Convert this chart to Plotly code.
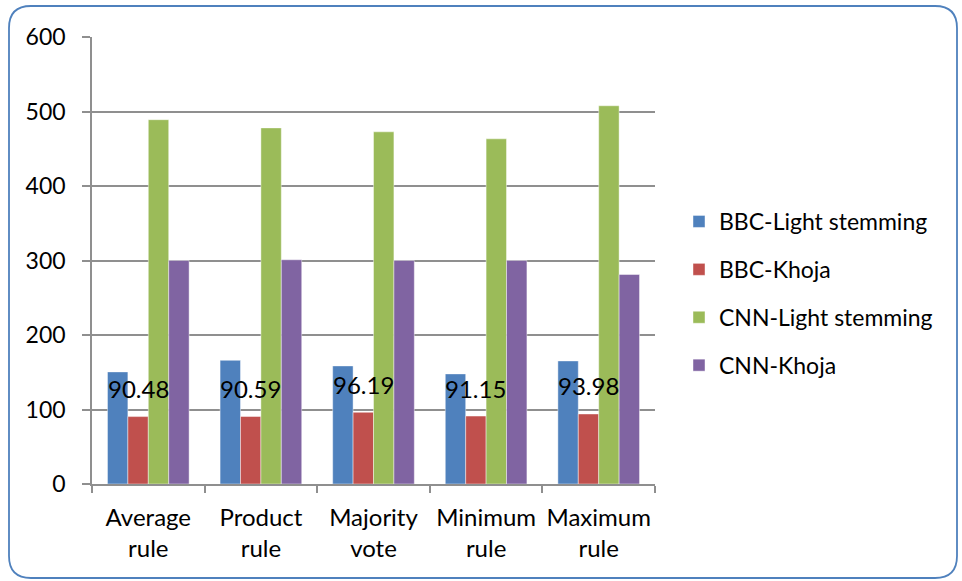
import plotly.graph_objects as go

# Combination rules compared across stemmers and corpora
categories = ["Average<br>rule", "Product<br>rule", "Majority<br>vote", "Minimum<br>rule", "Maximum<br>rule"]
bbc_light = [150.5, 166.0, 158.5, 147.8, 165.2]
bbc_khoja = [90.48, 90.59, 96.19, 91.15, 93.98]
cnn_light = [489.0, 478.0, 472.7, 463.3, 507.7]
cnn_khoja = [300.0, 301.0, 300.0, 300.0, 281.2]

series = [
    ("BBC-Light stemming", bbc_light, "#4F81BD"),
    ("BBC-Khoja", bbc_khoja, "#C0504D"),
    ("CNN-Light stemming", cnn_light, "#9BBB59"),
    ("CNN-Khoja", cnn_khoja, "#8064A2"),
]

W, H = 962, 581
ML, MR, MT, MB = 92, 307, 37, 97
PW, PH = W - ML - MR, H - MT - MB

FONT = "Lato"
GRID = "#8f8f8f"

fig = go.Figure()
for i, (name, vals, color) in enumerate(series):
    fig.add_trace(go.Bar(
        x=categories, y=vals, name=name,
        marker=dict(color=color, line=dict(color="rgba(255,255,255,0.55)", width=0.8)),
        legendgroup=f"g{i}",
    ))

# value labels above the BBC-Khoja bars (second bar of each group)
n_series = len(series)
bargap = 0.275
bar_px = PW / len(categories) * (1 - bargap) / n_series
red_offset = (1 - (n_series - 1) / 2) * bar_px
for cat, v in zip(categories, bbc_khoja):
    fig.add_annotation(
        x=cat, y=v, xref="x", yref="y", text=f"{v:.2f}", showarrow=False,
        xshift=red_offset, yshift=28, yanchor="middle",
        font=dict(family=FONT, size=24, color="black"),
    )


def px_x(p):
    return (p - ML) / PW


def px_y(p):
    return (H - MB - p) / PH


# rounded chart-area border
x0, x1, y0, y1, r = 9, 957, 6, 578, 22
rx, ry = r / PW, r / PH
X0, X1, Y0, Y1 = px_x(x0), px_x(x1), px_y(y1), px_y(y0)
path = (
    f"M {X0 + rx},{Y1} L {X1 - rx},{Y1} Q {X1},{Y1} {X1},{Y1 - ry} "
    f"L {X1},{Y0 + ry} Q {X1},{Y0} {X1 - rx},{Y0} "
    f"L {X0 + rx},{Y0} Q {X0},{Y0} {X0},{Y0 + ry} "
    f"L {X0},{Y1 - ry} Q {X0},{Y1} {X0 + rx},{Y1} Z"
)
fig.add_shape(type="path", xref="paper", yref="paper", path=path,
              line=dict(color="#4F81BD", width=1.8), fillcolor="rgba(0,0,0,0)", layer="below")

fig.update_layout(
    width=W, height=H,
    margin=dict(l=ML, r=MR, t=MT, b=MB, pad=0, autoexpand=False),
    paper_bgcolor="white", plot_bgcolor="white",
    barmode="group", bargap=bargap, bargroupgap=0,
    font=dict(family=FONT, size=24, color="black"),
    showlegend=True,
    legend=dict(
        x=px_x(679), y=px_y(200), xanchor="left", yanchor="top",
        font=dict(family=FONT, size=23, color="black"),
        tracegroupgap=15, itemclick=False, bgcolor="rgba(0,0,0,0)",
    ),
    xaxis=dict(
        showline=True, linecolor=GRID, linewidth=1.5, automargin=False, tickangle=0,
        ticks="outside", tickson="boundaries", ticklen=7, tickcolor=GRID, tickwidth=1.5,
        showgrid=False, tickfont=dict(family=FONT, size=24), ticklabelstandoff=11,
    ),
    yaxis=dict(
        range=[0, 600], dtick=100, tick0=0, automargin=False,
        showline=True, linecolor=GRID, linewidth=1.5,
        ticks="outside", ticklen=8, tickcolor=GRID, tickwidth=1.5,
        showgrid=True, gridcolor=GRID, gridwidth=1.5, zeroline=False,
        tickfont=dict(family=FONT, size=23), ticklabelstandoff=12,
    ),
)

fig.write_html("out.html")
